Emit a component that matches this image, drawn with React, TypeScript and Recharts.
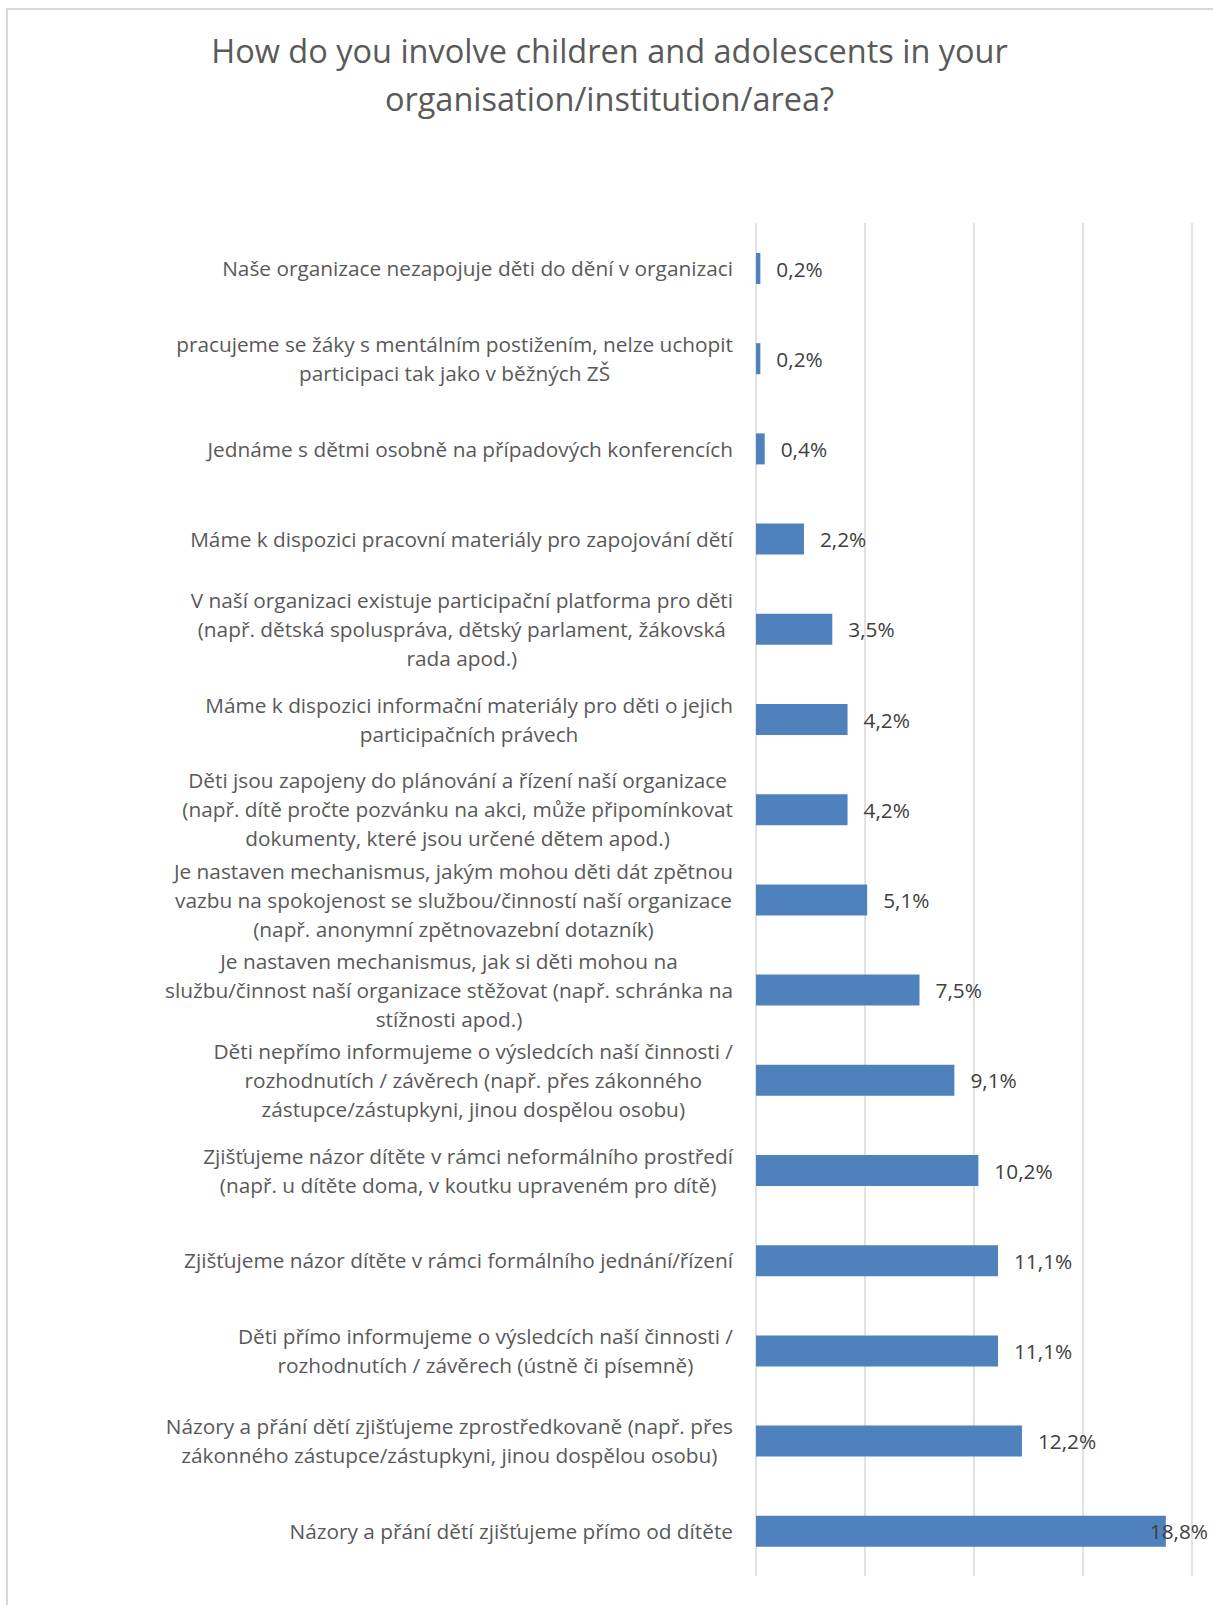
import React from 'react'
import { BarChart, Bar, XAxis, YAxis, CartesianGrid, LabelList } from 'recharts'

const categories = [
  'Naše organizace nezapojuje děti do dění v organizaci',
  'pracujeme se žáky s mentálním postižením, nelze uchopit\nparticipaci tak jako v běžných ZŠ',
  'Jednáme s dětmi osobně na případových konferencích',
  'Máme k dispozici pracovní materiály pro zapojování dětí',
  'V naší organizaci existuje participační platforma pro děti\n(např. dětská spoluspráva, dětský parlament, žákovská\nrada apod.)',
  'Máme k dispozici informační materiály pro děti o jejich\nparticipačních právech',
  'Děti jsou zapojeny do plánování a řízení naší organizace\n(např. dítě pročte pozvánku na akci, může připomínkovat\ndokumenty, které jsou určené dětem apod.)',
  'Je nastaven mechanismus, jakým mohou děti dát zpětnou\nvazbu na spokojenost se službou/činností naší organizace\n(např. anonymní zpětnovazební dotazník)',
  'Je nastaven mechanismus, jak si děti mohou na\nslužbu/činnost naší organizace stěžovat (např. schránka na\nstížnosti apod.)',
  'Děti nepřímo informujeme o výsledcích naší činnosti /\nrozhodnutích / závěrech (např. přes zákonného\nzástupce/zástupkyni, jinou dospělou osobu)',
  'Zjišťujeme názor dítěte v rámci neformálního prostředí\n(např. u dítěte doma, v koutku upraveném pro dítě)',
  'Zjišťujeme názor dítěte v rámci formálního jednání/řízení',
  'Děti přímo informujeme o výsledcích naší činnosti /\nrozhodnutích / závěrech (ústně či písemně)',
  'Názory a přání dětí zjišťujeme zprostředkovaně (např. přes\nzákonného zástupce/zástupkyni, jinou dospělou osobu)',
  'Názory a přání dětí zjišťujeme přímo od dítěte',
]

const values = [0.2, 0.2, 0.4, 2.2, 3.5, 4.2, 4.2, 5.1, 7.5, 9.1, 10.2, 11.1, 11.1, 12.2, 18.8]

const xTicks = [0, 5, 10, 15, 20]

const chartData = categories.map((c, i) => ({ category: c, value: values[i] }))

const W = 1213
const H = 1605
const MARGIN = { top: 223, right: 21, bottom: 29, left: 0 }
const FONT = '"Open Sans", "Noto Sans", sans-serif'
const LABEL_SIZE = 20.8
const LINE_H = 29

let ctx: CanvasRenderingContext2D | null = null
function textWidth(s: string, size: number) {
  if (!ctx) ctx = document.createElement('canvas').getContext('2d')
  if (!ctx) return s.length * size * 0.5
  ctx.font = `${size}px ${FONT}`
  return ctx.measureText(s).width
}

function fmt(v: number) {
  return v.toFixed(1).replace('.', ',') + '%'
}

// multi-line labels, centred against each other, block right-aligned to the axis
function CategoryTick(props: any) {
  const { x, y, payload } = props
  const lines = String(payload.value).split('\n')
  const maxW = Math.max(...lines.map(l => textWidth(l, LABEL_SIZE)))
  const cx = x - maxW / 2
  const top = y - ((lines.length - 1) * LINE_H) / 2
  return (
    <text fill="#595959" fontSize={LABEL_SIZE} fontFamily={FONT} textAnchor="middle" dominantBaseline="central">
      {lines.map((l, i) => (
        <tspan key={i} x={cx} y={top + i * LINE_H}>{l}</tspan>
      ))}
    </text>
  )
}

function ValueLabel(props: any) {
  const { x, y, width, height, value } = props
  const label = fmt(value)
  const w = textWidth(label, LABEL_SIZE)
  const limit = W - MARGIN.right + 16
  let lx = x + width + 16
  if (lx + w > limit) lx = limit - w
  return (
    <text x={lx} y={y + height / 2} fill="#404040" fontSize={LABEL_SIZE} fontFamily={FONT} dominantBaseline="central">
      {label}
    </text>
  )
}

export default function App() {
  return (
    <div style={{ position: 'absolute', left: 0, top: 0, width: W, height: H, background: '#fff', overflow: 'hidden' }}>
      <div
        style={{
          position: 'absolute', left: 6, top: 8, width: W, height: H,
          borderTop: '2px solid #D9D9D9', borderLeft: '2px solid #D9D9D9',
        }}
      />
      <div
        style={{
          position: 'absolute', left: 6, top: 27, width: W - 6, textAlign: 'center',
          fontFamily: FONT, fontSize: 32.5, lineHeight: '48px', color: '#595959',
        }}
      >
        How do you involve children and adolescents in your
        <br />
        organisation/institution/area?
      </div>
      <div style={{ position: 'absolute', left: 0, top: 0 }}>
        <BarChart width={W} height={H} data={chartData} layout="vertical" margin={MARGIN}>
          <CartesianGrid horizontal={false} vertical stroke="#D9D9D9" strokeWidth={1.5} />
          <XAxis type="number" domain={[0, 20]} ticks={xTicks} hide />
          <YAxis
            dataKey="category"
            type="category"
            width={756}
            axisLine={false}
            tickLine={false}
            tickSize={0}
            tickMargin={23}
            interval={0}
            tick={<CategoryTick />}
          />
          <Bar dataKey="value" fill="#4F81BD" barSize={31} isAnimationActive={false}>
            <LabelList dataKey="value" content={<ValueLabel />} />
          </Bar>
        </BarChart>
      </div>
    </div>
  )
}
